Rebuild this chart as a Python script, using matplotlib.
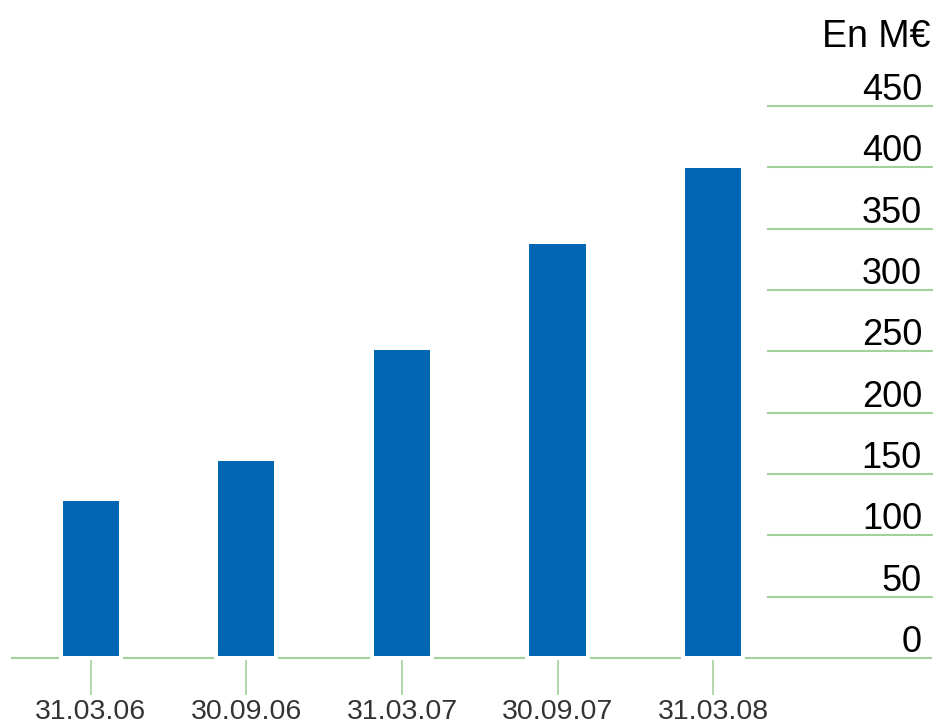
import matplotlib.pyplot as plt
import numpy as np

plt.rcParams['font.family'] = ['Liberation Sans', 'DejaVu Sans']

dates = ['31.03.06', '30.09.06', '31.03.07', '30.09.07', '31.03.08']
encours = [130, 162, 253, 339, 401]
graduations = [0, 50, 100, 150, 200, 250, 300, 350, 400, 450]

bleu = '#0066b3'
vert = '#a3d19c'

W, H = 933, 726
fig = plt.figure(figsize=(W / 100, H / 100), dpi=100)
ax = fig.add_axes([11 / W, 68 / H, 921 / W, 552 / H])
ax.set_ylim(0, 450)
xmin, xmax = -0.514, 5.408
ax.set_xlim(xmin, xmax)
for s in ax.spines.values():
    s.set_visible(False)

x = np.arange(len(dates))
largeur = 0.386
marge = 0.013

# ligne de base interrompue sous chaque barre
bords = [xmin]
for xi in x:
    bords += [xi - largeur / 2 - marge, xi + largeur / 2 + marge]
bords.append(xmax)
for a, b in zip(bords[::2], bords[1::2]):
    ax.plot([a, b], [0, 0], color=vert, lw=1.5, zorder=1, clip_on=False,
            solid_capstyle='butt')

# petits traits de grille à droite
for g in graduations[1:]:
    ax.plot([4.354, xmax], [g, g], color=vert, lw=1.5, zorder=1, clip_on=False)

ax.bar(x, encours, width=largeur, color=bleu, edgecolor='white', linewidth=2.9,
       zorder=3, clip_on=False)

ax.set_xticks(x)
ax.set_xticklabels(dates, fontsize=20.5, color='#333333')
ax.tick_params(axis='x', direction='out', length=26.6, width=1.2, color=vert, pad=3)
ax.set_yticks([])

for g in graduations:
    ax.annotate(str(g), xy=(1, g), xycoords=('axes fraction', 'data'),
                xytext=(-7.2, 4.3), textcoords='offset points',
                ha='right', va='baseline', fontsize=26, color='black')

fig.text(930 / W, 1 - 47 / H, 'En M€', ha='right', va='baseline',
         fontsize=27, color='black')

fig.savefig('out.png', dpi=100, facecolor='white')
